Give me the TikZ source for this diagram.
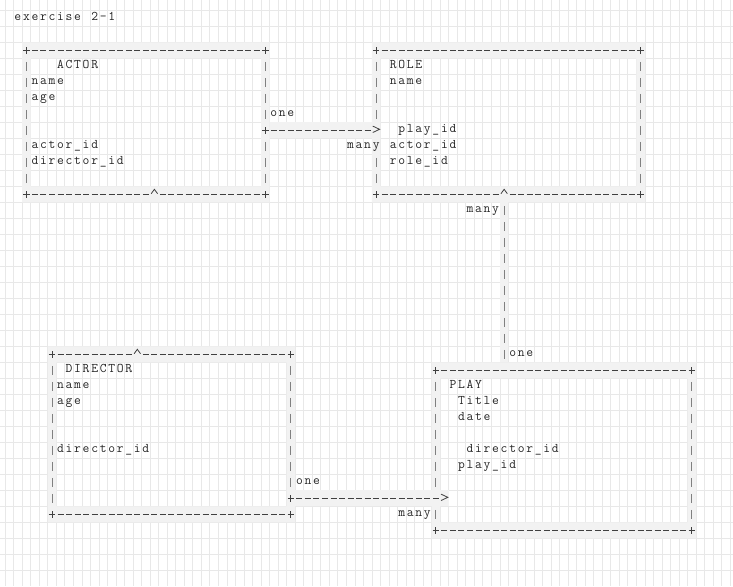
\documentclass[tikz,border=0pt]{standalone}
\usepackage{fontspec}
\usetikzlibrary{calc}
\makeatletter
\newcommand\cellrun[1]{\@tfor\cellch:=#1\do{\makebox[8.53pt][c]{\cellch}}}
\makeatother
\newcommand\asclab[4]{\node[lbl] (#1) at ({#2-0.5},{#3+0.125}) {\cellrun{#4}};}
\tikzset{
  gridl/.style={draw=black!9,line width=0.7pt},
  band/.style={fill=black!5},
  boxn/.style={rectangle,draw=none,inner sep=0pt,outer sep=0pt},
  hd/.style={draw=black!75,line width=0.9pt,dash pattern=on 6pt off 2.53pt,dash phase=7.265pt},
  vd/.style={draw=black!50,line width=0.8pt,dash pattern=on 8.8pt off 7.2pt,dash phase=12.4pt},
  plusl/.style={draw=black!75,line width=0.8pt},
  lbl/.style={anchor=base west,inner sep=0pt,outer sep=0pt,text=black!85,
    font=\ttfamily\fontsize{13.2pt}{16pt}\selectfont},
  crs/.pic={\draw[plusl] (-3.3pt,0) -- (3.3pt,0) (0,-3.3pt) -- (0,3.3pt);},
  caret/.pic={\draw[plusl,line join=miter] (-3.2pt,0.6pt) -- (0,5pt) -- (3.2pt,0.6pt);},
  chev/.pic={\draw[plusl,line join=miter] (-3.4pt,4.2pt) -- (3.4pt,1pt) -- (-3.4pt,-2.2pt);},
}
\begin{document}
\begin{tikzpicture}[x=8.53pt,y=-16pt]
\useasboundingbox (-1.098,-1.144) rectangle (84.83,35.48);
\fill[white] (-1.098,-1.144) rectangle (84.83,35.48);
\foreach \i in {-0.5,0.5,...,84.5}{\draw[gridl] (\i,-1.144) -- (\i,35.48);}
\foreach \j in {-0.5,0.5,...,35.0}{\draw[gridl] (-1.098,\j) -- (84.83,\j);}

% boxes
\node[boxn,minimum width=238.84pt,minimum height=144pt] (actor) at (16,6.5) {};
\node[boxn,minimum width=264.43pt,minimum height=144pt] (role) at (58.5,6.5) {};
\node[boxn,minimum width=238.84pt,minimum height=160pt] (director) at (19,26) {};
\node[boxn,minimum width=255.9pt,minimum height=160pt] (play) at (65,27) {};

\foreach \b in {actor,role,director,play}{
  \fill[band,even odd rule] ($(\b.north west)+(-0.5,-0.5)$) rectangle ($(\b.south east)+(0.5,0.5)$)
     ($(\b.north west)+(0.5,0.5)$) rectangle ($(\b.south east)+(-0.5,-0.5)$);
}
% connector bands
\fill[band] ($(actor.east)+(0.5,0)$) rectangle ($(role.west)+(0.5,1)$);
\fill[band] ($(role.south)+(-1,0.5)$) rectangle ($(play.north)+(-6.5,-0.5)$);
\fill[band] ($(director.east)+(0.5,3.5)$) rectangle ($(play.west)+(1.5,3.5)$);

% ACTOR border
\draw[hd] (2.5,2)--(29.5,2) (2.5,11)--(16.5,11) (17.5,11)--(29.5,11);
\draw[vd] (2,2.5)--(2,10.5) (30,2.5)--(30,6.5) (30,7.5)--(30,10.5);
\foreach \p in {(2,2),(30,2),(2,11),(30,11)} \pic at \p {crs};
\pic at (17,11) {caret};
% ROLE border
\draw[hd] (43.5,2)--(73.5,2) (43.5,11)--(57.5,11) (58.5,11)--(73.5,11);
\draw[vd] (43,2.5)--(43,6.5) (43,8.5)--(43,10.5) (74,2.5)--(74,10.5);
\foreach \p in {(43,2),(74,2),(43,11),(74,11)} \pic at \p {crs};
\pic at (58,11) {caret};
% DIRECTOR border
\draw[hd] (5.5,21)--(14.5,21) (15.5,21)--(32.5,21) (5.5,31)--(32.5,31);
\draw[vd] (5,21.5)--(5,30.5) (33,21.5)--(33,29.5);
\foreach \p in {(5,21),(33,21),(5,31),(33,31)} \pic at \p {crs};
\pic at (15,21) {caret};
% PLAY border
\draw[hd] (50.5,22)--(79.5,22) (50.5,32)--(79.5,32);
\draw[vd] (50,22.5)--(50,29.5) (50,30.5)--(50,31.5) (80,22.5)--(80,31.5);
\foreach \p in {(50,22),(80,22),(50,32),(80,32)} \pic at \p {crs};

% connectors
\draw[hd] ($(actor.east)+(0.5,0.5)$) -- ($(role.west)+(-0.5,0.5)$);
\pic at ($(actor.east)+(0,0.5)$) {crs};
\pic at ($(role.west)+(0,0.5)$) {chev};
\draw[vd] ($(role.south)+(-0.5,0.5)$) -- ($(play.north)+(-7,-0.5)$);
\draw[hd] ($(director.east)+(0.5,4)$) -- ($(play.west)+(0.5,3)$);
\pic at ($(director.east)+(0,4)$) {crs};
\pic at ($(play.west)+(1,3)$) {chev};

% labels
\asclab{lex}{1}{0}{exercise~2-1}
\asclab{la1}{6}{3}{ACTOR}
\asclab{la2}{3}{4}{name}
\asclab{la3}{3}{5}{age}
\asclab{la4}{3}{8}{actor\_id}
\asclab{la5}{3}{9}{director\_id}
\asclab{lone1}{31}{6}{one}
\asclab{lmany1}{40}{8}{many}
\asclab{lr1}{45}{3}{ROLE}
\asclab{lr2}{45}{4}{name}
\asclab{lr3}{46}{7}{play\_id}
\asclab{lr4}{45}{8}{actor\_id}
\asclab{lr5}{45}{9}{role\_id}
\asclab{lmany2}{54}{12}{many}
\asclab{lone2}{59}{21}{one}
\asclab{ld1}{7}{22}{DIRECTOR}
\asclab{ld2}{6}{23}{name}
\asclab{ld3}{6}{24}{age}
\asclab{ld4}{6}{27}{director\_id}
\asclab{lone3}{34}{29}{one}
\asclab{lmany3}{46}{31}{many}
\asclab{lp1}{52}{23}{PLAY}
\asclab{lp2}{53}{24}{Title}
\asclab{lp3}{53}{25}{date}
\asclab{lp4}{54}{27}{director\_id}
\asclab{lp5}{53}{28}{play\_id}
\end{tikzpicture}
\end{document}
